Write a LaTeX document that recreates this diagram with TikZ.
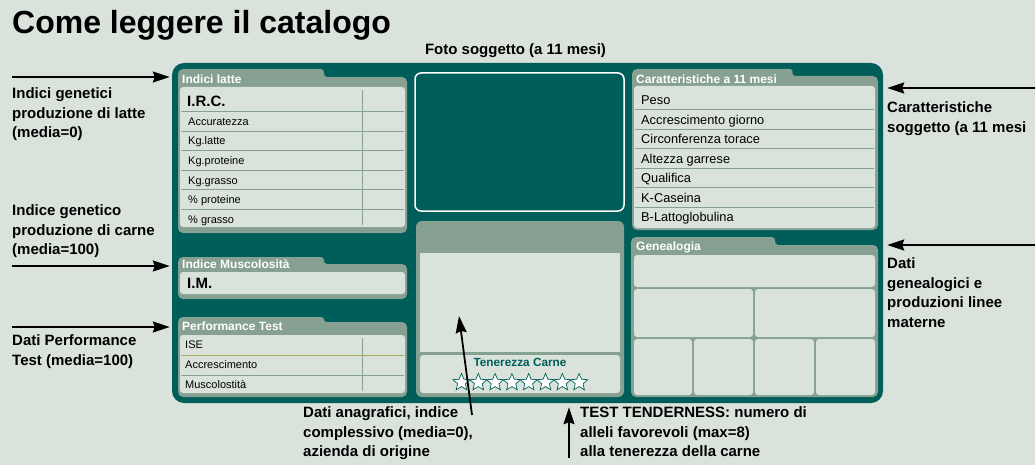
\documentclass[tikz,border=0pt]{standalone}
\usepackage{fontspec}
\setmainfont{Liberation Sans}
\usepackage{xcolor}
\usetikzlibrary{arrows.meta, positioning, shapes.geometric}

\definecolor{bgpale}{RGB}{218,227,219}
\definecolor{cardteal}{RGB}{0,94,90}
\definecolor{tabgreen}{RGB}{134,160,145}
\definecolor{oliveline}{RGB}{168,170,96}

\begin{document}
\begin{tikzpicture}[x=1pt, y=-1pt,
  card/.style    = {fill=cardteal, rounded corners=12pt, inner sep=0pt,
                    minimum width=711pt, minimum height=340pt},
  tabpanel/.style = {fill=tabgreen, rounded corners=5pt},
  sheet/.style   = {fill=bgpale, rounded corners=3pt},
  rowsep/.style  = {draw=tabgreen, line width=0.9pt},
  hdr/.style     = {font=\bfseries\fontsize{12}{13}\selectfont, text=white,
                    anchor=base west, inner sep=0pt},
  rowtxt/.style  = {font=\fontsize{11}{13}\selectfont, anchor=base west,
                    inner sep=0pt},
  rowbig/.style  = {font=\fontsize{12.8}{14}\selectfont, anchor=base west,
                    inner sep=0pt},
  keytxt/.style  = {font=\bfseries\fontsize{15}{17}\selectfont, anchor=base west,
                    inner sep=0pt},
  note/.style    = {font=\bfseries\fontsize{15}{19.5}\selectfont, align=left,
                    anchor=north west, inner sep=0pt},
  star5/.style   = {star, star points=5, star point ratio=2.2, minimum size=18pt,
                    inner sep=0pt, draw=cardteal, fill=white, line width=0.7pt},
  arr/.style     = {-{Stealth[length=17pt,width=11pt,inset=2pt]},
                    line width=1.8pt, black},
]

\fill[bgpale] (0,0) rectangle (1035,465);
\useasboundingbox (0,0) rectangle (1035,465);

\node[font=\bfseries\fontsize{32}{36}\selectfont, anchor=base west, inner sep=0pt]
  (title) at (12,33.5) {Come leggere il catalogo};
\node[font=\bfseries\fontsize{15}{17}\selectfont, anchor=base, inner sep=0pt]
  (foto-lbl) at (515.5,55) {Foto soggetto (a 11 mesi)};

\node[card] (card) at (527.5,233) {};

%% Indici latte
\fill[tabpanel] (178,233) -- (178,69) -- (316,69) .. controls (326,69) and (322,77) .. (332,77)
  -- (407,77) -- (407,233) -- cycle;
\node[hdr] (h-latte) at (182,84) {Indici latte};
\fill[sheet] (180,87) rectangle (405,227);
\draw[rowsep] (362,90) -- (362,225);
\node[keytxt] (irc) at (187,107) {I.R.C.};
\foreach \t [count=\i] in {Accuratezza, Kg.latte, Kg.proteine, Kg.grasso, \% proteine, \% grasso} {
  \draw[rowsep] (181,{92.2+19.5*\i}) -- (404,{92.2+19.5*\i});
  \node[rowtxt] (latte\i) at (188,{106+19.5*\i}) {\t};
}

%% Indice Muscolosita
\fill[tabpanel] (178,299) -- (178,257) -- (316,257) .. controls (326,257) and (322,264) .. (332,264)
  -- (407,264) -- (407,299) -- cycle;
\node[hdr] (h-musc) at (182,268) {Indice Muscolosità};
\fill[sheet] (180,272) rectangle (405,294);
\node[keytxt] (im) at (187,288.5) {I.M.};

%% Performance Test
\fill[tabpanel] (178,397) -- (178,317) -- (316,317) .. controls (326,317) and (322,322) .. (332,322)
  -- (407,322) -- (407,397) -- cycle;
\node[hdr] (h-perf) at (182,330) {Performance Test};
\fill[sheet] (180,335) rectangle (405,393);
\draw[rowsep] (362,338) -- (362,391);
\draw[rowsep, draw=oliveline] (181,355) -- (404,355);
\draw[rowsep] (181,375) -- (404,375);
\foreach \t [count=\i from 0] in {ISE, Accrescimento, Muscolostità}
  \node[rowtxt] (perf\i) at (185,{348+20*\i}) {\t};

%% foto + anagrafica
\draw[white, line width=1.5pt, rounded corners=6pt] (415,73) rectangle (624,211);
\fill[tabpanel, rounded corners=6pt] (416,221) rectangle (624,397);
\fill[bgpale] (420,253) rectangle (620,352);
\fill[sheet] (420,355) rectangle (620,393);
\node[font=\bfseries\fontsize{11.8}{13}\selectfont, text=cardteal, anchor=base, inner sep=0pt]
  (tenerezza) at (520,366.3) {Tenerezza Carne};
\foreach \i in {0,...,7}
  \node[star5] (star\i) at ({461.5+16.8*\i},382.5) {};

%% Caratteristiche a 11 mesi
\fill[tabpanel] (632,230) -- (632,69) -- (785,69) .. controls (795,69) and (790,76) .. (800,76)
  -- (878,76) -- (878,230) -- cycle;
\node[hdr] (h-caratt) at (636,84) {Caratteristiche a 11 mesi};
\fill[sheet] (634,86) rectangle (875,228);
\foreach \i in {1,...,6}
  \draw[rowsep] (635,{90.25+19.5*\i}) -- (874,{90.25+19.5*\i});
\foreach \t [count=\i from 0] in {Peso, Accrescimento giorno, Circonferenza torace,
    Altezza garrese, Qualifica, K-Caseina, B-Lattoglobulina}
  \node[rowbig] (caratt\i) at (641,{104.6+19.5*\i}) {\t};

%% Genealogia
\fill[tabpanel] (631,397) -- (631,237) -- (767,237) .. controls (777,237) and (773,245) .. (783,245)
  -- (878,245) -- (878,397) -- cycle;
\node[hdr] (h-gen) at (636,250) {Genealogia};
\fill[sheet] (634,255) rectangle (875,287);
\fill[sheet] (634,289) rectangle (753,337);
\fill[sheet] (755,289) rectangle (875,337);
\fill[sheet] (634,339) rectangle (692,395);
\fill[sheet] (694,339) rectangle (753,395);
\fill[sheet] (755,339) rectangle (814,395);
\fill[sheet] (816,339) rectangle (875,395);

%% Notes
\node[note] (n-latte)  at (12,87.5)   {Indici genetici\\produzione di latte\\(media=0)};
\node[note] (n-carne)  at (12,204.5)  {Indice genetico\\produzione di carne\\(media=100)};
\node[note] (n-perf)   at (12,334.5)  {Dati Performance\\Test (media=100)};
\node[note] (n-caratt) at (887,101.5) {Caratteristiche\\soggetto (a 11 mesi};
\node[note] (n-gen)    at (887,257.5) {Dati\\genealogici e\\produzioni linee\\materne};
\node[note] (n-anag)   at (303,406.5) {Dati anagrafici, indice\\complessivo (media=0),\\azienda di origine};
\node[note] (n-tt)     at (580,406.5) {TEST TENDERNESS: numero di\\alleli favorevoli (max=8)\\alla tenerezza della carne};

%% Arrows
\coordinate (a-latte)  at (12,77);
\coordinate (a-carne)  at (12,266);
\coordinate (a-perf)   at (12,327);
\coordinate (a-caratt) at (1035,88);
\coordinate (a-gen)    at (1035,245);
\coordinate (a-anag)   at (472,415);
\coordinate (p-anag)   at (459,316);
\coordinate (a-tt)     at (569,458);

\draw[arr, shorten >=2pt] (a-latte) -- (a-latte -| card.west);
\draw[arr, shorten >=2pt] (a-carne) -- (a-carne -| card.west);
\draw[arr, shorten >=2pt] (a-perf) -- (a-perf -| card.west);
\draw[arr, shorten >=4pt] (a-caratt) -- (a-caratt -| card.east);
\draw[arr, shorten >=4pt] (a-gen) -- (a-gen -| card.east);
\draw[arr] (a-anag) -- (p-anag);
\draw[arr, shorten >=4pt] (a-tt) -- (a-tt |- card.south);

\end{tikzpicture}
\end{document}
